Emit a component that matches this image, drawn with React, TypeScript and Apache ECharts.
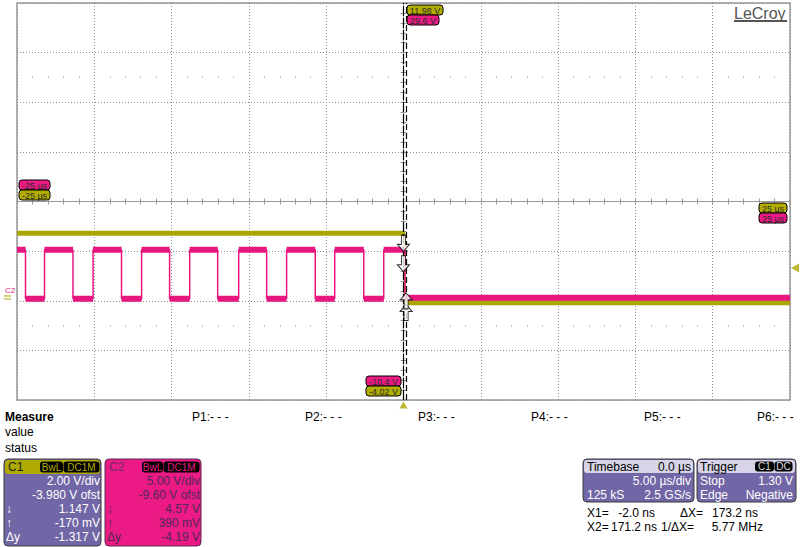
import React, { useEffect, useRef } from 'react';
import * as echarts from 'echarts';

// ---- axes (time in µs, vertical in divisions / volts) ----
const timeMin = -25;
const timeMax = 25;
const timeDiv = 5;
const divMin = -4;
const divMax = 4;
const c1Min = -4.02;
const c1Max = 11.98;
const c2Min = -10.4;
const c2Max = 29.6;

// ---- C1 trace: edge times (µs) and levels (V) ----
const c1Edges = [0.08];
const c1Levels = [2.7, -0.1];

// ---- C2 trace: edge times (µs) and levels (V) ----
const c2Edges = [
  -24.45, -23.22, -21.38, -20.08, -18.24, -16.94, -15.13, -13.83, -12.02,
  -10.66, -8.85, -7.56, -5.71, -4.45, -2.57, -1.28, 0.1,
];
const c2Levels = [
  4.75, -0.2, 4.75, -0.2, 4.75, -0.2, 4.75, -0.2, 4.75, -0.2, 4.75, -0.2,
  4.75, -0.2, 4.75, -0.2, 4.75, -0.1,
];

// ---- cursors ----
const cursorX1 = -0.002;
const cursorX2 = 0.1712;
const c1AtX1 = 1.147;
const c1AtX2 = -0.17;
const c2AtX1 = 4.57;
const c2AtX2 = 0.39;
const triggerLevel = 1.3;

// ---- readouts ----
const topFlags = ['11.98 V', '29.6 V'];
const bottomFlags = ['-10.4 V', '-4.02 V'];
const leftFlags = ['-25 µs', '-25 µs'];
const rightFlags = ['25 µs', '25 µs'];
const paramLabels = ['P1:- - -', 'P2:- - -', 'P3:- - -', 'P4:- - -', 'P5:- - -', 'P6:- - -'];
const c1Rows = [['', '2.00 V/div'], ['', '-3.980 V ofst'], ['↓', '1.147 V'], ['↑', '-170 mV'], ['Δy', '-1.317 V']];
const c2Rows = [['', '5.00 V/div'], ['', '-9.60 V ofst'], ['↓', '4.57 V'], ['↑', '390 mV'], ['Δy', '-4.19 V']];
const timebaseRows = [['Timebase', '0.0 µs'], ['', '5.00 µs/div'], ['125 kS', '2.5 GS/s']];
const triggerRows = [['Trigger', ''], ['Stop', '1.30 V'], ['Edge', 'Negative']];
const cursorRows = [
  ['X1=', '-2.0 ns', 'ΔX=', '173.2 ns'],
  ['X2=', '171.2 ns', '1/ΔX=', '5.77 MHz'],
];

const YEL = '#aaa500';
const YEL_FLAG = '#b2ad00';
const PINK = '#e8167f';
const PINK_BOX = '#ec1a84';
const PURPLE = '#7166a6';
const GRIDC = '#999999';
const FONT = '"Liberation Sans", Arial, sans-serif';

const GRID_TOP = 3;
const GRID_H = 397;
const DOT_ROW_OFFSET = -(GRID_H / 8) * 1.5; // rows of dots 2.5 div from centre

function stepPoints(edges: number[], levels: number[], t0: number, t1: number) {
  const pts: any[] = [[t0, levels[0]]];
  edges.forEach((e, i) => {
    pts.push([e, levels[i]]);
    pts.push([e, levels[i + 1]]);
  });
  pts.push([t1, levels[levels.length - 1]]);
  return pts;
}

function plateauPoints(edges: number[], levels: number[], t0: number, t1: number) {
  const b = [t0, ...edges, t1];
  const pts: any[] = [];
  levels.forEach((l, i) => {
    if (i) pts.push([b[i], '-']);
    pts.push([b[i], l]);
    pts.push([b[i + 1], l]);
  });
  return pts;
}

function txt(x: number, y: number, text: string, opts: any = {}) {
  return {
    type: 'text',
    z: 50,
    style: {
      x,
      y,
      text,
      font: `${opts.bold ? 'bold ' : ''}${opts.size || 12}px ${FONT}`,
      fill: opts.fill || '#000',
      align: opts.align || 'left',
      verticalAlign: 'middle',
    },
  };
}

function rect(x: number, y: number, w: number, h: number, fill: string, opts: any = {}) {
  return {
    type: 'rect',
    z: 40,
    shape: { x, y, width: w, height: h, r: opts.r ?? 3 },
    style: { fill, stroke: opts.stroke || null, lineWidth: opts.lw || 1 },
  };
}

function flag(x: number, y: number, w: number, text: string, fill: string) {
  return [
    rect(x, y, w, 10, fill, { stroke: '#000', r: 3 }),
    txt(x + w / 2, y + 5.5, text, { size: 9, align: 'center', fill: '#2a2a2a' }),
  ];
}

function buildGraphics() {
  const g: any[] = [];
  // logo
  g.push(txt(734, 13.5, 'LeCroy', { size: 16, fill: '#555' }));
  g.push(rect(734, 20, 53, 2, '#555', { r: 0 }));
  // flags
  g.push(...flag(407, 5, 36, topFlags[0], YEL_FLAG));
  g.push(...flag(407, 15, 32, topFlags[1], PINK_BOX));
  g.push(...flag(366, 376, 35, bottomFlags[0], PINK_BOX));
  g.push(...flag(366, 386, 35, bottomFlags[1], YEL_FLAG));
  g.push(...flag(19, 180, 31, leftFlags[0], PINK_BOX));
  g.push(...flag(19, 190, 31, leftFlags[1], YEL_FLAG));
  g.push(...flag(759, 203, 28, rightFlags[0], YEL_FLAG));
  g.push(...flag(759, 213, 28, rightFlags[1], PINK_BOX));
  // ground markers
  g.push(txt(5, 290, 'C2', { size: 8, fill: PINK }));
  g.push(rect(4, 295.5, 7, 1, YEL, { r: 0 }));
  g.push(rect(4, 298.5, 7, 1, YEL, { r: 0 }));
  // measure
  g.push(txt(5, 416.5, 'Measure', { bold: true }));
  g.push(txt(5, 432, 'value'));
  g.push(txt(5, 448, 'status'));
  paramLabels.forEach((p, i) => g.push(txt(192 + i * 113, 416.5, p)));
  // C1 box
  g.push(rect(4, 459, 97, 87, PURPLE, { stroke: '#3a3a3a', r: 4 }));
  g.push(rect(5, 460, 95, 14, '#aeaa00', { r: 3 }));
  g.push(txt(8, 467, 'C1', { fill: '#222' }));
  g.push(rect(40, 461.5, 23, 11, '#000', { r: 3 }));
  g.push(txt(51.5, 467.5, 'BwL', { size: 10, align: 'center', fill: YEL_FLAG }));
  g.push(rect(63.5, 461.5, 36, 11, '#000', { r: 3 }));
  g.push(txt(81.5, 467.5, 'DC1M', { size: 10, align: 'center', fill: YEL_FLAG }));
  c1Rows.forEach((r, i) => {
    const y = 481 + i * 14.1;
    if (r[0]) g.push(txt(6, y, r[0], { fill: '#fff' }));
    g.push(txt(100, y, r[1], { fill: '#fff', align: 'right' }));
  });
  // C2 box
  g.push(rect(105, 459, 96, 87, PINK_BOX, { stroke: '#5a2a50', r: 4 }));
  g.push(txt(109, 467, 'C2', { fill: '#6b2c6e' }));
  g.push(rect(142, 461.5, 21, 11, '#000', { r: 3 }));
  g.push(txt(152.5, 467.5, 'BwL', { size: 10, align: 'center', fill: PINK_BOX }));
  g.push(rect(163.5, 461.5, 36, 11, '#000', { r: 3 }));
  g.push(txt(181.5, 467.5, 'DC1M', { size: 10, align: 'center', fill: PINK_BOX }));
  c2Rows.forEach((r, i) => {
    const y = 481 + i * 14.1;
    if (r[0]) g.push(txt(107, y, r[0], { fill: '#4e2858' }));
    g.push(txt(200, y, r[1], { fill: '#4e2858', align: 'right' }));
  });
  // timebase box
  g.push(rect(583, 459, 111, 43, PURPLE, { stroke: '#3a3a3a', r: 4 }));
  g.push(rect(584, 460, 109, 13, '#d6d4e6', { r: 3 }));
  timebaseRows.forEach((r, i) => {
    const y = 466.5 + i * 14.3;
    const fill = i === 0 ? '#000' : '#fff';
    if (r[0]) g.push(txt(587, y, r[0], { fill }));
    if (r[1]) g.push(txt(691, y, r[1], { fill, align: 'right' }));
  });
  // trigger box
  g.push(rect(697, 459, 99, 43, PURPLE, { stroke: '#3a3a3a', r: 4 }));
  g.push(rect(698, 460, 97, 13, '#d6d4e6', { r: 3 }));
  g.push(rect(755, 461.5, 19, 10, '#000', { r: 3 }));
  g.push(txt(764.5, 466.8, 'C1', { size: 10, align: 'center', fill: '#ddd' }));
  g.push(rect(774.5, 461.5, 18, 10, '#000', { r: 3 }));
  g.push(txt(783.5, 466.8, 'DC', { size: 10, align: 'center', fill: '#ddd' }));
  triggerRows.forEach((r, i) => {
    const y = 466.5 + i * 14.3;
    const fill = i === 0 ? '#000' : '#fff';
    if (r[0]) g.push(txt(700, y, r[0], { fill }));
    if (r[1]) g.push(txt(793, y, r[1], { fill, align: 'right' }));
  });
  // cursor readouts
  cursorRows.forEach((r, i) => {
    const y = 513 + i * 14;
    g.push(txt(587, y, r[0]));
    g.push(txt(i === 0 ? 655 : 657, y, r[1], { align: 'right' }));
    g.push(txt(i === 0 ? 680 : 661, y, r[2]));
    g.push(txt(i === 0 ? 758 : 763, y, r[3], { align: 'right' }));
  });
  return g;
}

const DOWN_ARROW = 'path://M4,0 L8,0 L8,9 L12,9 L6,16 L0,9 L4,9 Z';
const UP_ARROW = 'path://M6,0 L12,7 L8,7 L8,16 L4,16 L4,7 L0,7 Z';

function buildOption() {
  const centerLine = {
    show: true,
    onZero: true,
    onZeroAxisIndex: 0,
    lineStyle: { color: GRIDC, width: 1 },
  };
  const baseX = {
    type: 'value',
    min: timeMin,
    max: timeMax,
    interval: timeDiv,
    axisLabel: { show: false },
    axisTick: { show: true, length: 3, lineStyle: { color: GRIDC } },
    minorTick: { show: true, splitNumber: 5, length: 3, lineStyle: { color: GRIDC } },
  };
  const dotX = {
    type: 'value',
    min: timeMin,
    max: timeMax,
    interval: timeDiv,
    axisLabel: { show: false },
    axisLine: { show: false, onZero: false },
    axisTick: { show: false },
    minorTick: { show: true, splitNumber: 5, length: 1, lineStyle: { color: '#888', width: 1 } },
    splitLine: { show: false },
  };
  const baseY = {
    type: 'value',
    min: divMin,
    max: divMax,
    interval: 1,
    axisLabel: { show: false },
    axisTick: { show: true, length: 3, lineStyle: { color: GRIDC } },
    minorTick: { show: true, splitNumber: 5, length: 3, lineStyle: { color: GRIDC } },
  };
  const dotted = { show: true, lineStyle: { color: '#8e8e8e', type: [1, 2], width: 1 } };
  return {
    animation: false,
    backgroundColor: '#fff',
    grid: {
      left: 17,
      top: GRID_TOP,
      width: 773,
      height: GRID_H,
      show: true,
      borderColor: GRIDC,
      borderWidth: 1.5,
      backgroundColor: 'transparent',
    },
    xAxis: [
      { ...baseX, position: 'bottom', axisLine: centerLine, splitLine: dotted },
      { ...baseX, position: 'top', axisLine: centerLine, splitLine: { show: false } },
      { ...dotX, position: 'top', offset: DOT_ROW_OFFSET },
      { ...dotX, position: 'bottom', offset: DOT_ROW_OFFSET },
    ],
    yAxis: [
      { ...baseY, position: 'left', axisLine: centerLine, splitLine: dotted },
      { ...baseY, position: 'right', axisLine: centerLine, splitLine: { show: false } },
      { type: 'value', min: c1Min, max: c1Max, show: false, splitLine: { show: false } },
      { type: 'value', min: c2Min, max: c2Max, show: false, splitLine: { show: false } },
    ],
    series: [
      {
        type: 'line',
        yAxisIndex: 2,
        data: stepPoints(c1Edges, c1Levels, timeMin, timeMax),
        showSymbol: false,
        lineStyle: { color: YEL, width: 1.5 },
        z: 2,
      },
      {
        type: 'line',
        yAxisIndex: 2,
        data: plateauPoints(c1Edges, c1Levels, timeMin, timeMax),
        showSymbol: false,
        connectNulls: false,
        lineStyle: { color: YEL, width: 5 },
        z: 2,
      },
      {
        type: 'line',
        yAxisIndex: 3,
        data: stepPoints(c2Edges, c2Levels, timeMin, timeMax),
        showSymbol: false,
        lineStyle: { color: PINK, width: 1.5 },
        z: 3,
      },
      {
        type: 'line',
        yAxisIndex: 3,
        data: plateauPoints(c2Edges, c2Levels, timeMin, timeMax),
        showSymbol: false,
        connectNulls: false,
        lineStyle: { color: PINK, width: 6 },
        z: 3,
      },
      {
        type: 'scatter',
        yAxisIndex: 2,
        z: 10,
        clip: false,
        data: [
          { value: [cursorX1, c1AtX1], symbol: DOWN_ARROW, symbolOffset: [0, '-50%'] },
          { value: [cursorX2, c1AtX2], symbol: UP_ARROW, symbolOffset: [0, '50%'] },
        ],
        symbolSize: [12, 16],
        itemStyle: { color: '#fff', borderColor: '#000', borderWidth: 1 },
        markLine: {
          silent: true,
          symbol: 'none',
          label: { show: false },
          data: [
            { xAxis: cursorX1, lineStyle: { color: '#000', width: 1.2, type: [10, 2] } },
            { xAxis: cursorX2, lineStyle: { color: '#000', width: 1.2, type: [6, 3] } },
          ],
        },
      },
      {
        type: 'scatter',
        yAxisIndex: 3,
        z: 10,
        clip: false,
        data: [
          { value: [cursorX1, c2AtX1], symbol: DOWN_ARROW, symbolOffset: [0, '-50%'] },
          { value: [cursorX2, c2AtX2], symbol: UP_ARROW, symbolOffset: [0, '50%'] },
        ],
        symbolSize: [12, 16],
        itemStyle: { color: '#fff', borderColor: '#000', borderWidth: 1 },
      },
      {
        type: 'scatter',
        yAxisIndex: 2,
        z: 10,
        clip: false,
        data: [{ value: [timeMax, triggerLevel] }],
        symbol: 'triangle',
        symbolRotate: 90,
        symbolSize: [9, 8],
        symbolOffset: [5, 0],
        itemStyle: { color: YEL },
      },
      {
        type: 'scatter',
        yAxisIndex: 0,
        z: 10,
        clip: false,
        data: [{ value: [0, divMin] }],
        symbol: 'triangle',
        symbolSize: [8, 7],
        symbolOffset: [0, 5],
        itemStyle: { color: YEL },
      },
    ],
    graphic: buildGraphics(),
  };
}

export default function App() {
  const ref = useRef<HTMLDivElement>(null);
  useEffect(() => {
    const chart = echarts.init(ref.current!, null, { renderer: 'svg' });
    chart.setOption(buildOption() as any);
    return () => chart.dispose();
  }, []);
  return (
    <div
      ref={ref}
      style={{ position: 'fixed', left: 0, top: 0, width: 800, height: 547, background: '#fff' }}
    />
  );
}
